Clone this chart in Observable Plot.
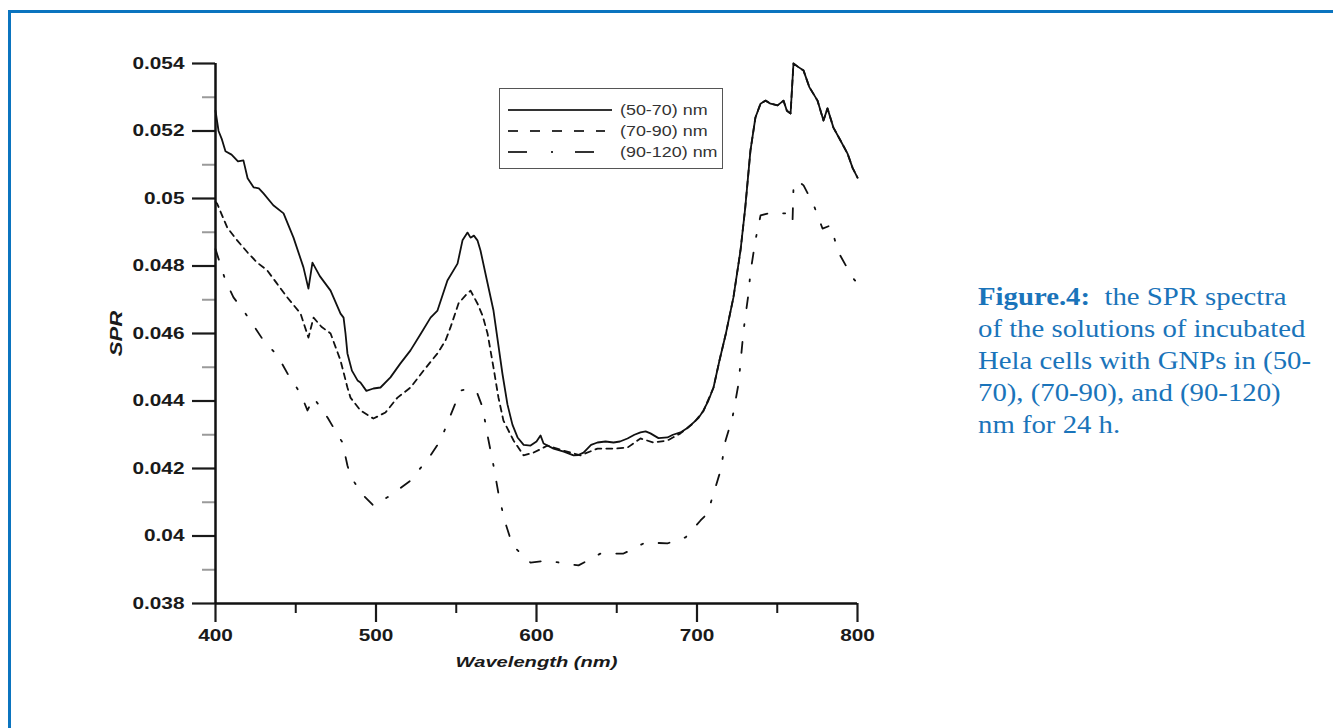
<!DOCTYPE html>
<html>
<head>
<meta charset="utf-8">
<script src="https://cdn.jsdelivr.net/npm/d3@7"></script>
<script src="https://cdn.jsdelivr.net/npm/@observablehq/plot@0.6"></script>
<style>
  html, body { margin: 0; padding: 0; background: #fff; }
  #page { position: relative; width: 1333px; height: 728px; overflow: hidden; }
  #frame { position: absolute; left: 8px; top: 10px; width: 1400px; height: 800px; border: 3px solid #0b74bf; box-sizing: border-box; }
  #chart { position: absolute; left: 0; top: 0; }
  #legend { position: absolute; left: 499px; top: 88px; }
  #caption { position: absolute; left: 978px; top: 281px; font-family: "Liberation Serif", "Times New Roman", serif; font-size: 25px; line-height: 32px; color: #1a74ba; white-space: nowrap; transform-origin: 0 0; transform: scaleX(1.15); }
  #caption b { font-weight: bold; }
</style>
</head>
<body>
<div id="page">
  <div id="frame"></div>
  <div id="chart"></div>
  <div id="legend"></div>
  <div id="caption"><b>Figure.4:</b>&nbsp; the SPR spectra<br>of the solutions of incubated<br>Hela cells with GNPs in (50-<br>70), (70-90), and (90-120)<br>nm for 24 h.</div>
</div>
<script>
// ---- data ----
const seriesNames = ["(50-70) nm", "(70-90) nm", "(90-120) nm"];

const wlA = [400,401.9,404,406.2,410,414,417.4,420,423.7,427,429.9,436,442.4,448.6,454.8,457.9,460.4,465,471.7,477.9,479.8,481,482.2,485,488.5,490.3,494,498.4,502.8,509,515,521.5,528,534,538.3,544.5,550.8,553.9,557,558.9,561,563.2,565.1,569,573.2,578.8,581.9,585,588.2,592,596.3,600,602.5,604.4,610.6,617,623.1,626,629.3,634,638,643,648,652,656.7,661,664.8,668,671,676,681.6,685,689.7,694,697.8,701,704,707,710.3,714,718,722.7,727.1,730,733.3,736.4,739.6,742.7,745.8,750.2,753.9,756,758.3,760.1,763,766.4,770,775.1,778.8,781.3,785,789.4,793.8,797,800];
const spA = [0.0526,0.0520,0.05175,0.0514,0.0513,0.0511,0.05113,0.0506,0.05033,0.0503,0.05015,0.0498,0.04956,0.04884,0.04796,0.04733,0.0481,0.0477,0.04727,0.04659,0.04647,0.0460,0.04541,0.0449,0.04461,0.04455,0.0443,0.04437,0.0444,0.0447,0.0451,0.0455,0.0460,0.04647,0.04668,0.04757,0.04807,0.04876,0.04899,0.04884,0.0489,0.04876,0.04846,0.0476,0.04668,0.0448,0.0439,0.0433,0.04292,0.0427,0.04268,0.0428,0.04298,0.04274,0.04259,0.0425,0.04239,0.0424,0.04247,0.0427,0.04277,0.0428,0.04277,0.0428,0.04289,0.0430,0.04307,0.0431,0.04304,0.0429,0.04292,0.0430,0.04307,0.0432,0.04336,0.0435,0.04372,0.0440,0.0444,0.0452,0.0460,0.04707,0.04846,0.0497,0.05142,0.0524,0.05281,0.0529,0.05281,0.05276,0.0529,0.0526,0.05252,0.0540,0.0539,0.05379,0.0533,0.0529,0.05231,0.05267,0.0521,0.05172,0.05133,0.0509,0.05062];

const wlB = [400,401,407.3,413.5,420,426,432.2,438,444.7,453,457.9,461.1,466,471.7,477.9,482.2,484.1,490.3,498.4,505.9,513.4,521.5,529.6,538.3,543.3,546.4,551.4,555.8,558.9,563.2,566.4,569.5,573.2,576.3,579.4,585.7,591.9,598.1,606.9,616.8,627.4,638,648,656.7,664.8,672.9,681.6,689.7,697.8,704,710.3,714,718,722.7,727.1,730,733.3,736.4,739.6,742.7,745.8,750.2,753.9,756,758.3,760.1,763,766.4,770,775.1,778.8,781.3,785,789.4,793.8,797,800];
const spB = [0.0499,0.04985,0.04914,0.04876,0.0484,0.0481,0.04787,0.0475,0.04707,0.04659,0.04588,0.04647,0.0462,0.0460,0.0452,0.0444,0.0441,0.04372,0.04348,0.04366,0.0441,0.0444,0.0449,0.04541,0.04579,0.04618,0.04689,0.04713,0.04727,0.04689,0.04653,0.0460,0.04499,0.0441,0.04342,0.04283,0.04239,0.04247,0.04268,0.04253,0.04239,0.04259,0.04259,0.04262,0.04289,0.04277,0.04283,0.04304,0.04334,0.0437,0.0444,0.0452,0.0460,0.04707,0.04846,0.0497,0.05142,0.0524,0.05281,0.0529,0.05281,0.05276,0.0529,0.0526,0.05252,0.0540,0.0539,0.05379,0.0533,0.0529,0.05231,0.05267,0.0521,0.05172,0.05133,0.0509,0.05062];

const wlC = [400,406.2,411.2,417.4,423.7,429.9,438.6,444.9,453,457.3,461.1,469.8,473.5,479.1,482.2,484.1,490.3,498.4,509,521.5,534,540.2,546.4,552.7,558.9,563.2,566.4,569.5,573.2,576.3,580.1,585.1,596.3,606.9,618.1,626.2,639.9,654.2,667.9,681.6,692.9,702.2,706.6,710.3,714.7,717.8,722.1,725.9,729,732.1,733.3,736.4,739.6,747.1,753.3,756.4,759.5,760.1,762.6,766.4,772.6,778.2,783.2,788.2,796.9,800];
const spC = [0.0485,0.04757,0.04707,0.04668,0.04624,0.04579,0.04535,0.04481,0.04422,0.04372,0.0441,0.04351,0.04321,0.04277,0.04209,0.04179,0.04129,0.0409,0.0412,0.04164,0.04239,0.04283,0.04357,0.04431,0.04437,0.04422,0.04381,0.04298,0.04209,0.04126,0.04046,0.03972,0.03921,0.03927,0.03918,0.03913,0.03948,0.03948,0.03981,0.03978,0.03996,0.04046,0.04067,0.04126,0.04194,0.04283,0.04351,0.04452,0.04609,0.04719,0.04781,0.04876,0.0495,0.04959,0.04956,0.04956,0.04929,0.0503,0.05053,0.05039,0.04982,0.04911,0.0492,0.0484,0.04766,0.04748];

const xMajor = [400, 500, 600, 700, 800];
const xMinor = [450, 550, 650, 750];
const yMajor = [0.038, 0.040, 0.042, 0.044, 0.046, 0.048, 0.050, 0.052, 0.054];
const yMinor = [0.039, 0.041, 0.043, 0.045, 0.047, 0.049, 0.051, 0.053];
const yTickLabels = ["0.038", "0.04", "0.042", "0.044", "0.046", "0.048", "0.05", "0.052", "0.054"];

const toRows = (wl, sp) => wl.map((w, i) => ({w, v: sp[i]}));
const dA = toRows(wlA, spA), dB = toRows(wlB, spB), dC = toRows(wlC, spC);

const chart = Plot.plot({
  width: 900, height: 700,
  marginLeft: 215, marginRight: 43, marginTop: 63, marginBottom: 97,
  x: {domain: [400, 800]},
  y: {domain: [0.038, 0.054]},
  style: {fontFamily: "'Liberation Sans', Arial, sans-serif", fontSize: "16px", fontWeight: "bold", color: "#1a1a1a", background: "transparent", overflow: "visible"},
  marks: [
    Plot.axisY({ticks: yMinor, tickSize: 13, tickFormat: () => "", label: null, stroke: "#9a9a9a", strokeWidth: 2}),
    Plot.axisY({ticks: yMajor, tickSize: 23, tickPadding: 8, tickFormat: d => yTickLabels[yMajor.indexOf(d)], label: "SPR", labelAnchor: "center", labelArrow: "none", labelOffset: 106, strokeWidth: 2.2}),
    Plot.axisX({ticks: xMinor, tickSize: 10, tickFormat: () => "", label: null, strokeWidth: 2}),
    Plot.axisX({ticks: xMajor, tickSize: 19, tickPadding: 7, label: "Wavelength (nm)", labelAnchor: "center", labelArrow: "none", labelOffset: 63, strokeWidth: 2.2}),
    Plot.ruleX([400], {y1: 0.038, y2: 0.054, stroke: "#111", strokeWidth: 2.5}),
    Plot.ruleY([0.038], {x1: 400, x2: 800, stroke: "#111", strokeWidth: 2.5}),
    Plot.line(dC, {x: "w", y: "v", stroke: "#111", strokeWidth: 1.8, strokeDasharray: "11,16,2,16"}),
    Plot.line(dB, {x: "w", y: "v", stroke: "#111", strokeWidth: 1.8, strokeDasharray: "6,5"}),
    Plot.line(dA, {x: "w", y: "v", stroke: "#111", strokeWidth: 1.8})
  ]
});
document.getElementById("chart").appendChild(chart);

function stretch(sel, k) {
  sel.each(function () {
    const t = d3.select(this);
    const tr = t.attr("transform") || "";
    const x = +t.attr("x") || 0, y = +t.attr("y") || 0;
    t.attr("transform", `${tr} translate(${x},${y}) scale(${k},1) translate(${-x},${-y})`);
  });
}
const svg = d3.select(chart);
stretch(svg.selectAll('[aria-label="y-axis tick label"] text, [aria-label="x-axis tick label"] text'), 1.3);
const labels = svg.selectAll('[aria-label="y-axis label"] text, [aria-label="x-axis label"] text').style("font-style", "italic");
svg.selectAll('[aria-label="x-axis label"] text').attr("font-size", 15.5);
svg.selectAll('[aria-label="y-axis label"] text').attr("font-size", 17);
stretch(labels, 1.3);

// ---- legend ----
const dashes = [null, "10,12", "19,24,2,22"];
const lineEnds = [113, 106, 98];
const lg = d3.select("#legend").append("svg").attr("width", 224).attr("height", 81);
lg.append("rect").attr("x", 0.5).attr("y", 0.5).attr("width", 223).attr("height", 80)
  .attr("fill", "#fff").attr("stroke", "#555").attr("stroke-width", 1);
seriesNames.forEach((name, i) => {
  const y = 22 + i * 21;
  lg.append("line").attr("x1", 9).attr("x2", lineEnds[i]).attr("y1", y).attr("y2", y)
    .attr("stroke", "#333").attr("stroke-width", 1.8).attr("stroke-dasharray", dashes[i]);
  lg.append("text").attr("transform", `translate(121,${y + 5}) scale(1.28,1)`).text(name)
    .attr("font-family", "'Liberation Sans', Arial, sans-serif").attr("font-size", 14).attr("fill", "#333");
});
</script>
</body>
</html>
